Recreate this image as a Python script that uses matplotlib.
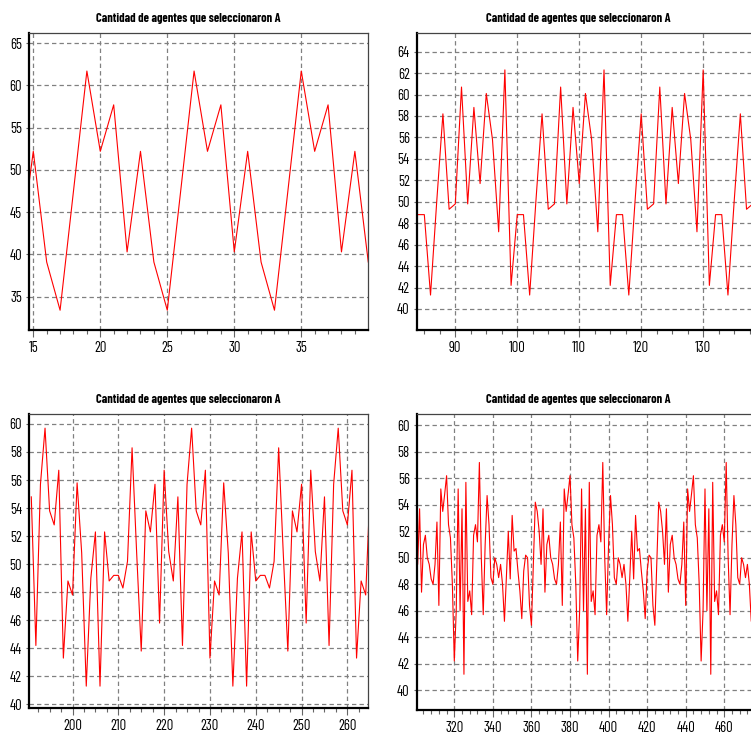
import numpy as np
import matplotlib
matplotlib.use('Agg')
import matplotlib.pyplot as plt
from matplotlib.ticker import MultipleLocator

# narrow face like the original screenshot, DejaVu as fallback
plt.rcParams['font.family'] = ['Barlow Condensed', 'DejaVu Sans']

TITLE = 'Cantidad de agentes que seleccionaron A'

cycle_1 = [40.3, 52.2, 39.1, 33.4, 47.5, 61.7, 52.2, 57.7]          # from t=14
cycle_2 = [48.8, 48.8, 41.3, 50.0, 58.2, 49.3, 49.8, 60.7,
           49.8, 58.8, 51.7, 60.1, 55.8, 47.2, 62.3, 42.2]          # from t=84
cycle_3 = [54.8, 44.2, 55.7, 59.7, 53.8, 52.8, 56.7, 43.3,
           48.8, 47.8, 55.8, 50.8, 41.3, 49.0, 52.3, 41.3,
           52.3, 48.8, 49.2, 49.2, 48.3, 50.2, 58.3, 50.8,
           43.8, 53.8, 52.3, 55.7, 45.8, 56.7, 50.9, 48.8]          # from t=191
cycle_4 = [52.0, 49.5, 53.7, 47.4, 51.0, 51.7, 50.0, 49.5,
           48.4, 48.0, 49.5, 52.7, 46.4, 55.2, 53.5, 54.8,
           56.2, 52.5, 51.5, 48.0, 42.2, 46.0, 55.2, 46.0,
           53.7, 41.2, 55.7, 46.7, 47.5, 45.7, 51.7, 52.5,
           51.2, 57.2, 50.0, 45.7, 51.0, 54.7, 52.5, 48.5,
           48.0, 50.0, 49.5, 48.5, 49.5, 48.0, 45.2, 48.5,
           52.0, 48.4, 53.2, 50.5, 50.7, 49.0, 47.5, 45.4,
           49.0, 50.2, 50.0, 46.4, 44.9, 49.5, 54.2, 53.5]          # from t=300

starts = [14, 84, 191, 300]
ends = [41, 144, 266, 490]
cycles = [cycle_1, cycle_2, cycle_3, cycle_4]

# axes frames in pixels: left, top, right, bottom (some run past the image)
frames = [(29, 33, 368, 330), (416.7, 33, 780, 330),
          (29, 414, 368, 708), (416.7, 414, 780, 710)]
xlims = [(14.68, 39.98), (83.77, 142.4), (190.5, 264.5), (300.5, 488.9)]
ylims = [(31.06, 66.2), (38.04, 65.74), (39.74, 60.71), (38.5, 60.86)]
xticks = [[15, 20, 25, 30, 35], [90, 100, 110, 120, 130],
          [200, 210, 220, 230, 240, 250, 260], [320, 340, 360, 380, 400, 420, 440, 460]]
xminor = [1, 2.5, 2.5, 4]
ymajor = [5, 2, 2, 2]
title_pos = [(188, 18), (578, 18), (188, 400), (578, 400)]

W, H = 751, 738
fig = plt.figure(figsize=(W / 100, H / 100), dpi=100)
fig.patch.set_facecolor('white')
renderer = fig.canvas.get_renderer()

for i in range(4):
    l, t, r, b = frames[i]
    ax = fig.add_axes([l / W, (H - b) / H, (r - l) / W, (b - t) / H])
    n = ends[i] - starts[i]
    x = np.arange(starts[i], ends[i])
    y = np.tile(cycles[i], n // len(cycles[i]) + 1)[:n]
    ax.plot(x, y, color='#ff0000', lw=0.8)

    ax.set_xlim(*xlims[i])
    ax.set_ylim(*ylims[i])
    ax.set_xticks(xticks[i])
    ax.xaxis.set_minor_locator(MultipleLocator(xminor[i]))
    ax.yaxis.set_major_locator(MultipleLocator(ymajor[i]))

    ax.grid(True, which='major', color='#808080', lw=0.9, ls=(0, (3.5, 2.5)))
    for s in ['left', 'bottom']:
        ax.spines[s].set_linewidth(1.6)
        ax.spines[s].set_color('black')
    for s in ['top', 'right']:
        ax.spines[s].set_linewidth(0.9)
        ax.spines[s].set_color('#444444')

    ax.tick_params(axis='x', which='major', length=5, width=0.8, color='#666666',
                   labelsize=10.5, pad=3)
    ax.tick_params(axis='x', which='minor', length=3, width=0.8, color='#666666')
    ax.tick_params(axis='y', which='major', length=2, width=0.8, color='#666666',
                   labelsize=10.5, pad=3)

    txt = fig.text(title_pos[i][0] / W, 1 - title_pos[i][1] / H, TITLE,
                   ha='center', va='center', fontsize=11, fontweight='bold')
    # shrink the title so it is as wide as in the original (about 183 px)
    w = txt.get_window_extent(renderer).width
    if w > 190:
        txt.set_fontsize(11 * 186 / w)

plt.savefig('out.png', dpi=100)
plt.close()
